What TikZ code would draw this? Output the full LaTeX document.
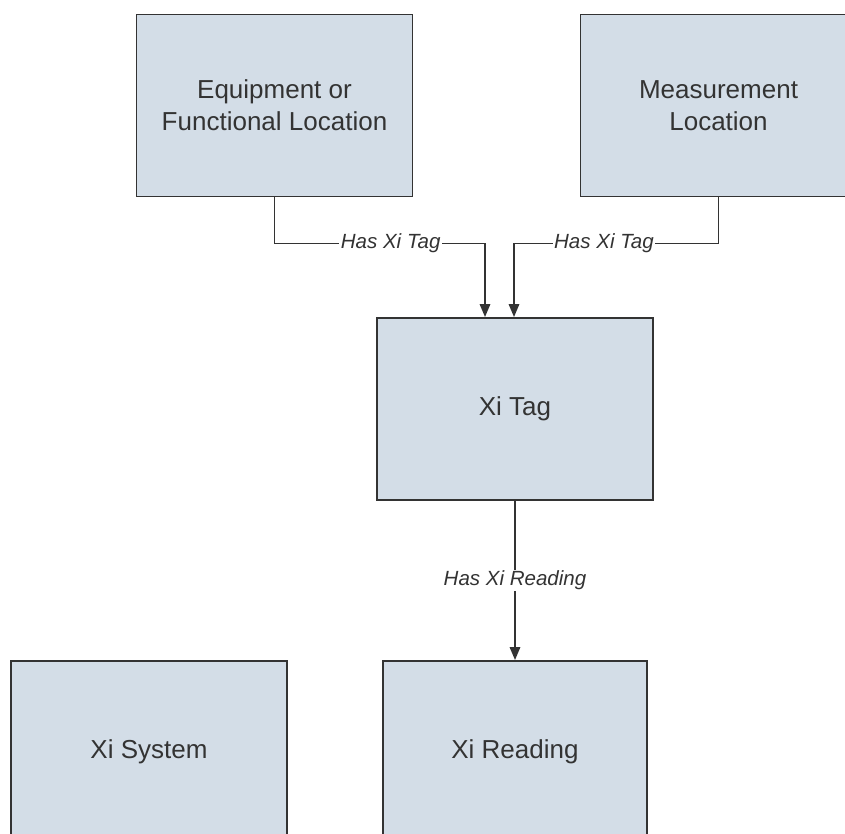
\documentclass[tikz,border=0pt]{standalone}
\usepackage{fontspec}
\setmainfont{Liberation Sans}
\usepackage{xcolor}
\usepackage{tikz}
\usetikzlibrary{shapes,arrows,positioning,calc,arrows.meta}
\definecolor{boxfill}{HTML}{D3DDE7}
\definecolor{boxline}{HTML}{333333}
\definecolor{txtgrey}{HTML}{333333}

\begin{document}
\begin{tikzpicture}[
    entity/.style={draw=boxline, line width=1.4pt, fill=boxfill, rectangle,
        minimum width=6.9cm, minimum height=4.55cm, align=center,
        text=txtgrey, font=\fontsize{18.5}{22.8}\selectfont},
    link/.style={draw=boxline, line width=1.1pt, -{Triangle[length=0.32cm,width=0.26cm]}},
    rel/.style={fill=white, inner sep=1pt, anchor=center, text=txtgrey, font=\fontsize{14.6}{17}\selectfont\itshape}]
    \useasboundingbox (0,0) rectangle (21.125,-20.85);

    \node [entity] (equip) at (6.8625,-2.6375) {Equipment or\\Functional Location};
    \node [entity] (meas) at (17.9625,-2.6375) {Measurement\\Location};
    \node [entity] (xitag) at (12.875,-10.225) {Xi Tag};
    \node [entity] (xisys) at (3.725,-18.8) {Xi System};
    \node [entity, minimum width=6.6cm] (xiread) at (12.875,-18.8) {Xi Reading};

    \draw [link] (equip.south) -- ++(0,-1.15) -| node[rel, pos=0.276] {Has Xi Tag} ([xshift=-0.75cm]xitag.north);
    \draw [link] (meas.south) -- ++(0,-1.15) -| node[rel, pos=0.28] {Has Xi Tag} ([xshift=-0.025cm]xitag.north);
    \draw [link] (xitag.south) -- node[rel, midway] {Has Xi Reading} (xiread.north);

\end{tikzpicture}
\end{document}
